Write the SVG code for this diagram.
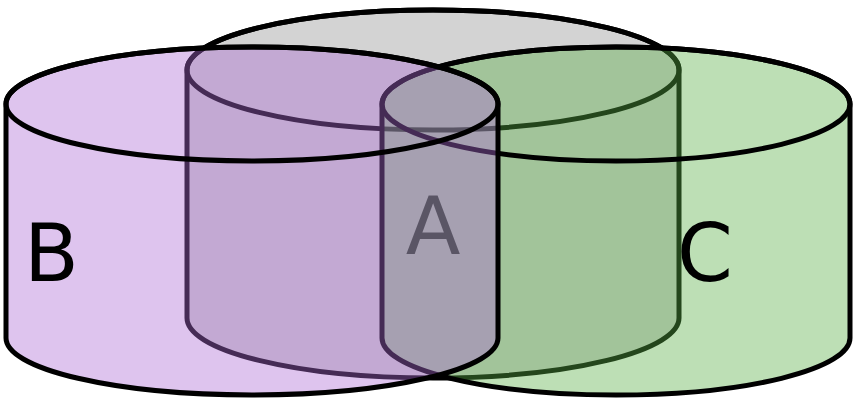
<svg xmlns="http://www.w3.org/2000/svg" width="855" height="398" viewBox="0 0 855 398">
<style>
.outline{stroke:#000;stroke-width:5;stroke-linejoin:round}
.cap{fill:none;stroke:#000;stroke-width:5}
.lbl{font-family:"DejaVu Sans",sans-serif;font-size:80px;fill:#000}
</style>
<rect width="855" height="398" fill="#fff"/>
<g id="nodeA">
<path class="outline" fill="#d3d3d3" d="M187,70 A246,60 0 0 1 679,70 L679,318 A246,60 0 0 1 187,318 Z"/>
<ellipse class="cap" cx="433" cy="70" rx="246" ry="60"/>
<text class="lbl" x="433" y="254" text-anchor="middle">A</text>
</g>
<g id="nodeC">
<path class="outline" fill="#5aaf46" fill-opacity="0.4" d="M382,104 A234,57 0 0 1 850,104 L850,338 A234,57 0 0 1 382,338 Z"/>
<ellipse class="cap" cx="616" cy="104" rx="234" ry="57"/>
<text class="lbl" x="677" y="281">C</text>
</g>
<g id="nodeB">
<path class="outline" fill="#ac6cd4" fill-opacity="0.4" d="M6,104 A246,57 0 0 1 498,104 L498,338 A246,57 0 0 1 6,338 Z"/>
<ellipse class="cap" cx="252" cy="104" rx="246" ry="57"/>
<text class="lbl" x="24" y="281">B</text>
</g>
<g id="connectors"/>
</svg>
